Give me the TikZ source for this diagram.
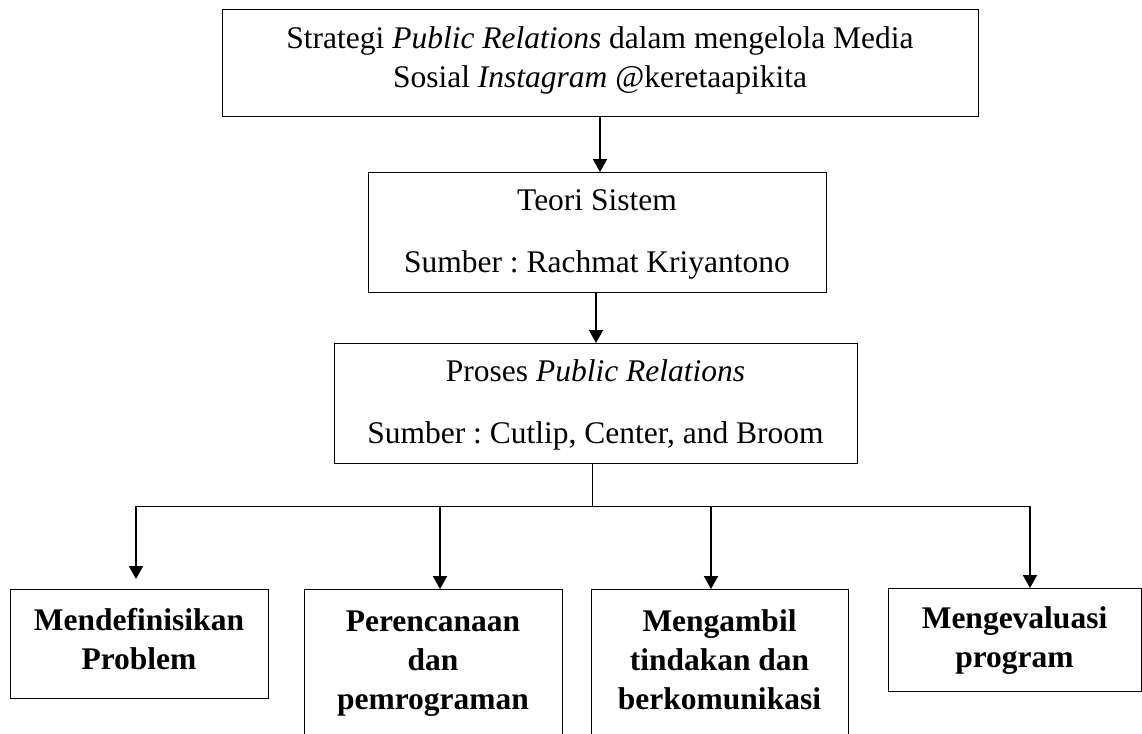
\documentclass[tikz,border=0pt]{standalone}
\usepackage{fontspec}
\setmainfont{Liberation Serif}
\frenchspacing
\usetikzlibrary{arrows.meta}
\begin{document}
\begin{tikzpicture}[x=1pt,y=-1pt,
  box/.style={draw, line width=1pt, inner sep=0pt, align=center, anchor=north,
    font=\fontsize{31.5}{39}\selectfont},
  boldbox/.style={box, font=\fontsize{31.5}{39}\selectfont\bfseries},
  arr/.style={line width=2pt, -{Triangle[length=13pt,width=14pt]}},
  link/.style={line width=1pt}]
\useasboundingbox (0,0) rectangle (1142,733);
\clip (0,0) rectangle (1142,733);

\node[box, minimum width=756pt, text height=78pt, text depth=29pt] (top) at (600,9)
  {Strategi \textit{Public Relations} dalam mengelola Media\\Sosial \textit{Instagram} @keretaapikita};
\node[box, minimum width=458pt, text height=100pt, text depth=20pt] (teori) at (597,172)
  {Teori Sistem\\[23pt]Sumber : Rachmat Kriyantono};
\node[box, minimum width=523pt, text height=100pt, text depth=20pt] (proses) at (595.5,343)
  {Proses \textit{Public Relations}\\[23pt]Sumber : Cutlip, Center, and Broom};

\node[boldbox, minimum width=258pt, text height=80pt, text depth=29pt] (b1) at (139,589)
  {Mendefinisikan\\Problem};
\node[boldbox, minimum width=258pt, text height=120pt, text depth=31pt] (b2) at (433,589)
  {Perencanaan\\dan\\pemrograman};
\node[boldbox, minimum width=257pt, text height=120pt, text depth=31pt] (b3) at (719.5,589)
  {Mengambil\\tindakan dan\\berkomunikasi};
\node[boldbox, minimum width=253pt, text height=79pt, text depth=24pt] (b4) at (1014.5,588)
  {Mengevaluasi\\program};

\draw[arr] (top.south -| 600,0) -- (teori.north -| 600,0);
\draw[arr] (teori.south -| 596,0) -- (proses.north -| 596,0);

\coordinate (j) at (592,506);
\coordinate (a1) at (136,506);
\coordinate (a2) at (440,506);
\coordinate (a3) at (711,506);
\coordinate (a4) at (1030,506);
\draw[link] (proses.south -| j) -- (j);
\draw[link] (a1) -- (a4);
\draw[arr, shorten >=10pt] (a1) -- (a1 |- b1.north);
\draw[arr] (a2) -- (a2 |- b2.north);
\draw[arr] (a3) -- (a3 |- b3.north);
\draw[arr] (a4) -- (a4 |- b4.north);
\end{tikzpicture}
\end{document}
